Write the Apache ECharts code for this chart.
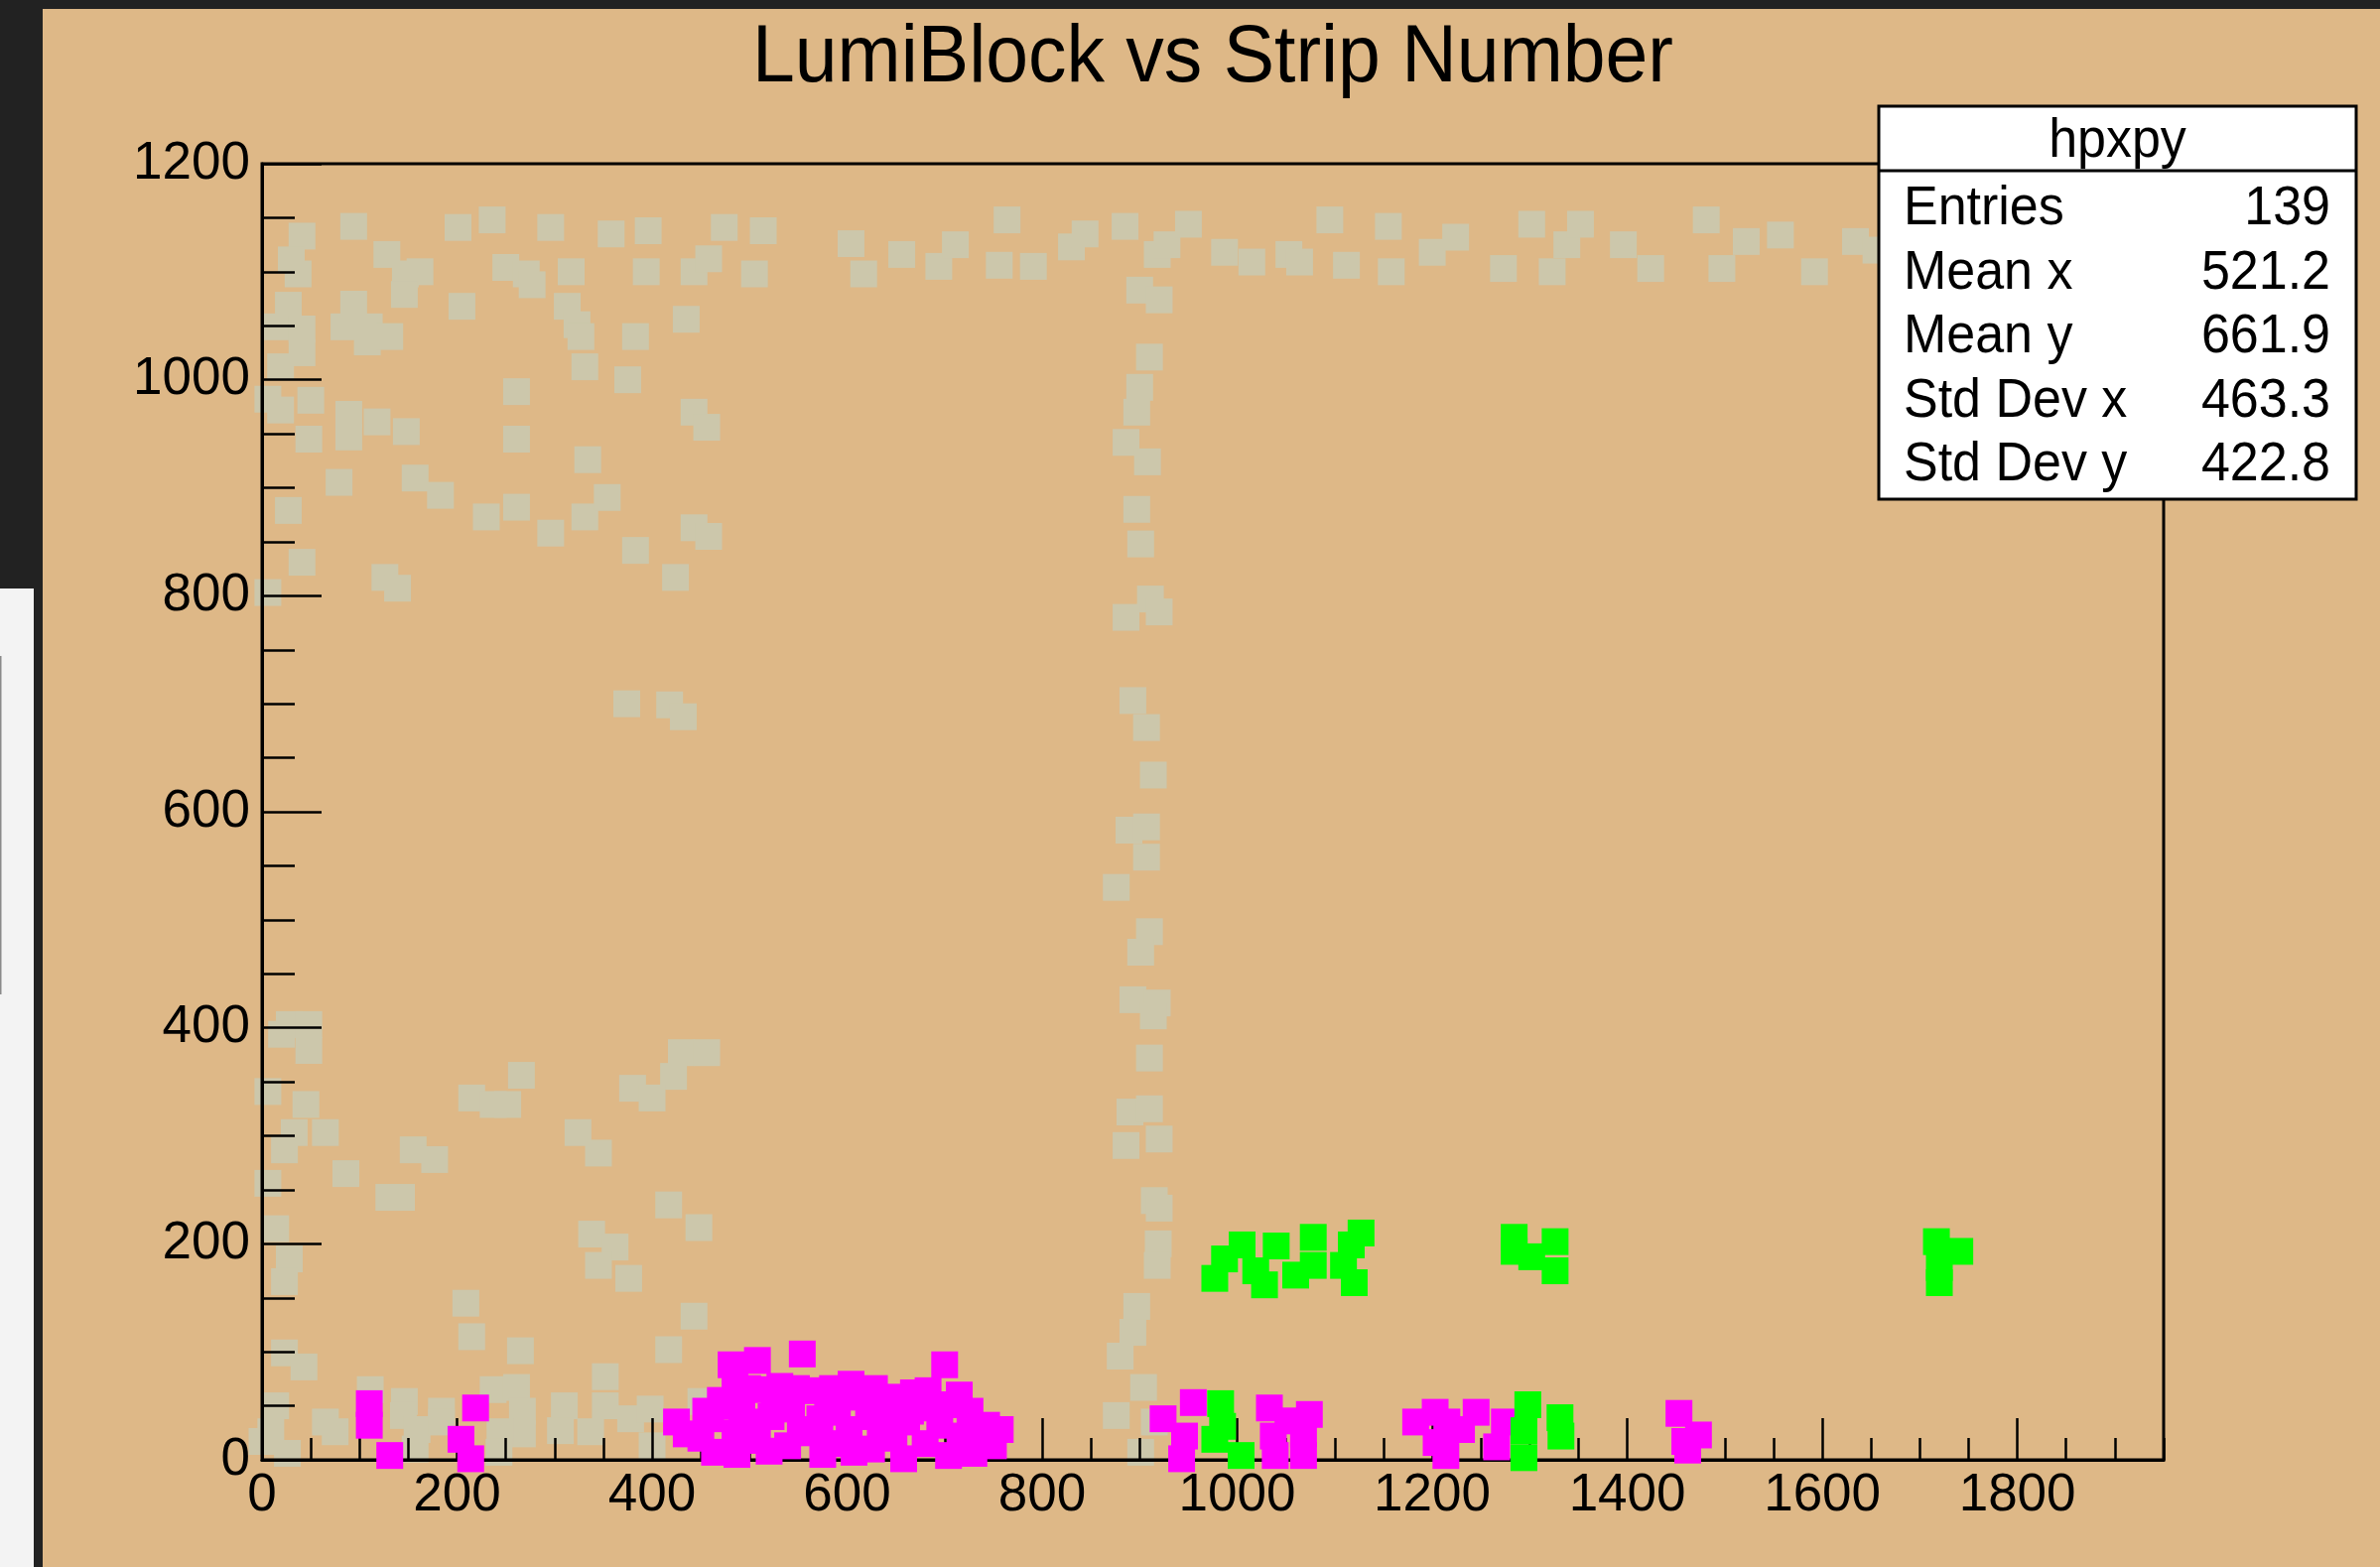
<!DOCTYPE html>
<html>
<head>
<meta charset="utf-8">
<title>LumiBlock vs Strip Number</title>
<script src="https://cdn.jsdelivr.net/npm/echarts@6/dist/echarts.min.js"></script>
<style>
  html, body { margin: 0; padding: 0; background: #222222; }
  #chart { width: 2398px; height: 1579px; }
</style>
</head>
<body>
<div id="chart"></div>
<script>
// Axis ranges and tick spacing
const xRange = [0, 1950];
const yRange = [0, 1200];
const majorStep = 200;
const minorStep = 50;

// Stats box contents
const statsTitle = 'hpxpy';
const statsLabels = ['Entries', 'Mean x', 'Mean y', 'Std Dev x', 'Std Dev y'];
const statsValues = ['139', '521.2', '661.9', '463.3', '422.8'];

// Strip number (x) vs lumiblock (y), all hits
const grayPoints = [
  // upper left band
  [41,1133],[94,1142],[128,1116],[147,1098],[162,1100],[146,1079],[201,1141],[236,1148],[296,1141],
  [358,1135],[396,1138],[474,1141],[514,1138],[250,1104],[271,1098],[277,1088],[317,1100],[394,1100],
  [443,1100],[458,1112],[505,1098],
  [30,1111],[37,1098],[27,1069],[14,1049],[41,1047],[41,1025],[19,1012],[6,982],[50,981],[19,972],
  [48,945],[27,879],[41,831],[6,803],
  [94,1070],[84,1049],[110,1049],[108,1035],[131,1040],[205,1068],[313,1068],[323,1051],[327,1040],
  [383,1040],[435,1056],[331,1012],[375,1000],[261,989],[89,968],[89,947],[118,961],[148,952],
  [261,945],[443,970],[456,956],[334,926],[79,905],[157,909],[183,893],[230,873],[261,882],[331,873],
  [354,891],[296,858],[383,842],[443,863],[458,855],[424,817],[126,817],[139,807],
  [374,700],[418,699],[432,688],
  // lower left band
  [28,403],[48,403],[20,394],[48,379],[430,377],[456,377],[266,356],[422,355],
  [6,341],[45,329],[33,303],[65,303],[23,287],[6,256],[86,265],[130,243],[143,243],[155,287],
  [177,278],[215,335],[237,329],[252,329],[324,303],[345,284],[380,344],[400,335],
  [338,209],[362,197],[345,180],[376,168],[14,214],[28,186],[23,165],[417,236],[448,215],
  [209,145],[215,114],[265,101],[23,99],[43,86],[443,133],[417,102],[450,54],
  [111,65],[146,54],[184,45],[237,65],[261,67],[267,45],[267,24],[310,50],[306,27],[352,77],
  [352,50],[337,26],[378,38],[398,47],[400,13],[65,35],[75,26],[145,41],[159,28],[157,10],
  [184,35],[244,26],[243,7],[14,50],[9,26],[26,6],[0,17],
  // vertical band near strip 900
  [900,1083],[920,1074],[910,1021],[900,993],[897,970],[886,942],[908,924],[897,880],[901,848],
  [911,797],[886,780],[920,785],[893,703],[907,678],[914,634],[889,583],[907,586],[907,558],
  [876,530],[910,489],[901,470],[893,426],[918,423],[914,411],[910,372],[890,322],[910,325],
  [886,291],[920,297],[915,240],[920,233],[919,200],[918,180],[897,142],[893,118],[880,96],
  [904,67],[876,41],[915,35],[901,7],
  // upper right band
  [604,1126],[617,1098],[656,1116],[694,1105],[711,1125],[764,1148],[756,1106],[791,1105],
  [830,1123],[844,1135],[885,1142],[918,1116],[928,1125],[950,1144],[987,1118],[1015,1109],
  [1053,1116],[1064,1109],[1095,1148],[1112,1106],[1155,1142],[1158,1100],[1200,1118],[1224,1132],
  [1273,1103],[1302,1144],[1323,1100],[1338,1125],[1352,1144],[1396,1125],[1424,1103],[1481,1148],
  [1497,1103],[1522,1128],[1557,1134],[1592,1100],[1634,1128],[1655,1120]
];

const magentaPoints = [
  [110,52],[110,32],[131,4],[219,48],[204,19],[214,1],
  [425,35],[435,24],[460,38],[464,7],[481,88],[508,92],[554,98],[492,45],[512,65],[531,68],
  [561,64],[604,70],[614,58],[639,45],[668,62],[700,88],[683,64],[726,45],[743,32],[757,28],
  [750,13],[704,4],[658,1],[607,7],[539,13],[508,18],[695,32],[634,22],[661,35],[716,22],
  [580,44],[543,47],[702,51],[566,28],[485,25],[590,15],
  [450,20],[478,50],[500,35],[522,40],[520,8],[552,25],[575,5],[590,52],[622,40],[625,10],
  [648,20],[680,15],[690,48],[730,6],[735,25],[525,55],[548,66],[585,66],[628,66],[650,58],
  [715,60],[470,55],[455,45],[498,66],[487,5],[572,38],[602,28],[665,45],[485,70],
  [924,38],[955,53],[946,22],[943,1],[1033,48],[1037,22],[1039,4],[1074,42],[1068,24],[1068,4],[1052,36],
  [1183,35],[1203,44],[1215,35],[1214,4],[1204,16],[1245,44],[1274,35],[1266,12],[1230,28],
  [1453,43],[1459,17],[1473,23],[1462,9]
];

const greenPoints = [
  [983,52],[985,31],[977,19],[1004,4],
  [977,168],[987,186],[1005,199],[1019,175],[1028,162],[1040,198],[1060,171],[1078,206],[1078,180],
  [1109,180],[1120,164],[1117,199],[1127,210],
  [1298,51],[1294,27],[1294,2],[1331,39],[1332,22],
  [1284,206],[1284,193],[1302,188],[1326,202],[1326,175],
  [1717,202],[1741,193],[1720,178],[1720,164]
];

const FONT = '"Liberation Sans", Arial, Helvetica, sans-serif';
const plot = { left: 264, top: 165, width: 1916, height: 1306 };

const chart = echarts.init(document.getElementById('chart'), null, { renderer: 'canvas' });

function markerSeries(name, data, color, z) {
  return {
    name: name,
    type: 'scatter',
    xAxisIndex: 0,
    yAxisIndex: 0,
    data: data,
    symbol: 'rect',
    symbolSize: 27,
    clip: false,
    z: z,
    itemStyle: { color: color, opacity: 1 },
    emphasis: { disabled: true },
    animation: false
  };
}

function plainNumber(v) { return String(v); }

// stats box as graphic elements
const boxX = 1893, boxY = 107, boxW = 481, boxH = 396, headerH = 65;
const rowY0 = 211, rowStep = 64.5;
const statsChildren = [
  { type: 'rect', z: 100, shape: { x: boxX, y: boxY, width: boxW, height: boxH },
    style: { fill: '#ffffff', stroke: '#000000', lineWidth: 3 } },
  { type: 'line', z: 101, shape: { x1: boxX, y1: boxY + headerH, x2: boxX + boxW, y2: boxY + headerH },
    style: { stroke: '#000000', lineWidth: 3 } },
  { type: 'text', z: 101, x: boxX + boxW / 2, y: 143, scaleX: 0.945,
    style: { text: statsTitle, x: 0, y: 0, font: '55px ' + FONT, fill: '#000', align: 'center', verticalAlign: 'middle' } }
];
statsLabels.forEach(function (lab, i) {
  statsChildren.push({ type: 'text', z: 101, x: 1918, y: rowY0 + i * rowStep, scaleX: 0.945,
    style: { text: lab, x: 0, y: 0, font: '55px ' + FONT, fill: '#000', align: 'left', verticalAlign: 'middle' } });
  statsChildren.push({ type: 'text', z: 101, x: 2348, y: rowY0 + i * rowStep, scaleX: 0.945,
    style: { text: statsValues[i], x: 0, y: 0, font: '55px ' + FONT, fill: '#000', align: 'right', verticalAlign: 'middle' } });
});

const option = {
  backgroundColor: '#DEB887',
  animation: false,
  grid: [
    Object.assign({ show: true, borderColor: '#000', borderWidth: 3, backgroundColor: 'transparent', z: 3 }, plot),
    Object.assign({ show: false }, plot)
  ],
  xAxis: [
    {
      type: 'value', gridIndex: 0, min: xRange[0], max: xRange[1], interval: majorStep, z: 3,
      axisLine: { show: true, onZero: false, lineStyle: { color: '#000', width: 3 } },
      axisTick: { show: true, inside: true, length: 42, lineStyle: { color: '#000', width: 2.5 } },
      minorTick: { show: false },
      splitLine: { show: false },
      axisLabel: { show: true, color: '#000', fontSize: 53, fontFamily: FONT, margin: 10,
        showMaxLabel: false, showMinLabel: true, formatter: plainNumber }
    },
    {
      type: 'value', gridIndex: 1, min: xRange[0], max: xRange[1], interval: minorStep, z: 3,
      axisLine: { show: false },
      axisTick: { show: true, inside: true, length: 22, lineStyle: { color: '#000', width: 2.5 } },
      splitLine: { show: false },
      axisLabel: { show: false }
    }
  ],
  yAxis: [
    {
      type: 'value', gridIndex: 0, min: yRange[0], max: yRange[1], interval: majorStep, z: 3,
      axisLine: { show: true, onZero: false, lineStyle: { color: '#000', width: 3 } },
      axisTick: { show: true, inside: true, length: 60, lineStyle: { color: '#000', width: 2.5 } },
      minorTick: { show: true, splitNumber: majorStep / minorStep, length: 33, lineStyle: { color: '#000', width: 2.5 } },
      splitLine: { show: false },
      minorSplitLine: { show: false },
      axisLabel: { show: true, color: '#000', fontSize: 53, fontFamily: FONT, margin: 12, formatter: plainNumber }
    },
    {
      type: 'value', gridIndex: 1, min: yRange[0], max: yRange[1], show: false
    }
  ],
  series: [
    markerSeries('all hits', grayPoints, '#CCC7AB', 1),
    markerSeries('hits A', magentaPoints, '#FF00FF', 5),
    markerSeries('hits B', greenPoints, '#00FF00', 6)
  ],
  graphic: [
    // window frame around the canvas
    { type: 'rect', z: 0, shape: { x: 0, y: 0, width: 2398, height: 9 }, style: { fill: '#222222' } },
    { type: 'rect', z: 0, shape: { x: 0, y: 0, width: 43, height: 1579 }, style: { fill: '#222222' } },
    { type: 'rect', z: 0, shape: { x: 0, y: 593, width: 34, height: 986 }, style: { fill: '#F3F3F3' } },
    { type: 'rect', z: 0, shape: { x: 0, y: 661, width: 1.5, height: 341 }, style: { fill: '#8A8A8A' } },
    // title
    { type: 'text', z: 10, x: 1222, y: 60, scaleX: 0.95,
      style: { text: 'LumiBlock vs Strip Number', x: 0, y: 0, font: '81px ' + FONT, fill: '#000', align: 'center', verticalAlign: 'middle' } },
    // statistics box
    { type: 'group', z: 100, children: statsChildren }
  ]
};

chart.setOption(option);
</script>
</body>
</html>
